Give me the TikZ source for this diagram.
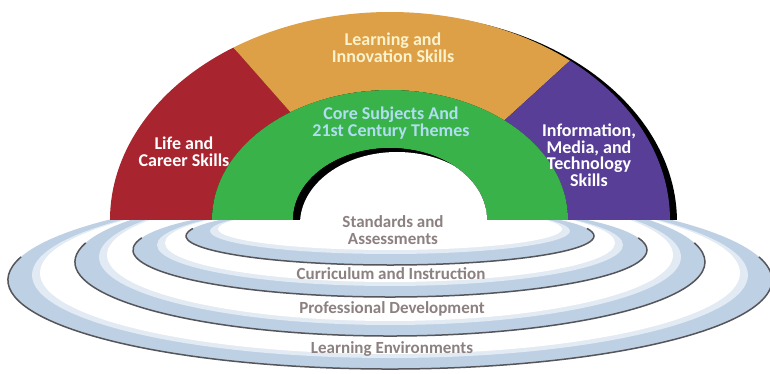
\documentclass[tikz,border=0pt]{standalone}
\usepackage{fontspec}
\setmainfont{Carlito}
\definecolor{lifered}{RGB}{168,36,46}
\definecolor{innoorange}{RGB}{221,160,70}
\definecolor{coregreen}{RGB}{58,178,74}
\definecolor{infopurple}{RGB}{88,62,150}
\definecolor{ringblue}{RGB}{190,208,228}
\definecolor{ringline}{RGB}{85,85,90}
\definecolor{supportgray}{RGB}{140,128,128}
\definecolor{corelabel}{RGB}{175,222,240}
\definecolor{innolabel}{RGB}{250,242,205}
% secteur de l'arc-en-ciel entre l'ellipse exterieure et l'ellipse du milieu
\newcommand{\secteur}[3]{\fill[#3] ({\rout*cos(#1)},{\hout*sin(#1)})
  arc[start angle=#1, end angle=#2, x radius=\rout, y radius=\hout]
  -- ({\rmid*cos(#2)},{\hmid*sin(#2)})
  arc[start angle=#2, end angle=#1, x radius=\rmid, y radius=\hmid] -- cycle;}

\begin{document}
\begin{tikzpicture}[x=1pt,y=1pt,
  lab/.style={font=\fontsize{18}{16.5}\selectfont\bfseries, align=center, inner sep=0pt},
  support/.style={font=\fontsize{17}{16.5}\selectfont\bfseries, align=center, inner sep=0pt, text=supportgray}]
  \def\rout{280}\def\hout{208}\def\rmid{178}\def\hmid{130}\def\rin{97}\def\hin{72}
  \useasboundingbox (-390,-154) rectangle (380,220);

  % anneaux de soutien, vus en perspective sous la base
  \begin{scope}
    \clip (-390,-154) rectangle (380,0);
    \foreach \cy/\rx/\ry in {-60/382/89, -42/315/74, -30/257/47, -16/204/29} {
      \fill[ringblue] (0,\cy) ellipse [x radius=\rx, y radius=\ry];
      \fill[ringblue!45] (0,\cy+5) ellipse [x radius=\rx-24, y radius=\ry-6];
      \fill[white] (0,\cy+7) ellipse [x radius=\rx-32, y radius=\ry-8];
      \draw[ringline, line width=1.5] ({-\rx*cos(15)},{\cy+\ry*sin(15)})
        arc[start angle=165, end angle=375, x radius=\rx, y radius=\ry];
    }
  \end{scope}

  % ombre portee de l'arc
  \begin{scope}
    \clip (-390,0) rectangle (380,220);
    \fill[black] (\rout+7,-2) arc[start angle=0, end angle=180, x radius=\rout, y radius=\hout] -- cycle;
  \end{scope}

  % les trois secteurs exterieurs
  \secteur{124}{180}{lifered}
  \secteur{50}{124}{innoorange}
  \secteur{0}{50}{infopurple}

  % anneau central
  \fill[coregreen] (\rmid,0) arc[start angle=0, end angle=180, x radius=\rmid, y radius=\hmid]
    -- (-\rin,0) arc[start angle=180, end angle=0, x radius=\rin, y radius=\hin] -- cycle;

  % trou central avec son ombre
  \begin{scope}
    \clip (\rin,0) arc[start angle=0, end angle=180, x radius=\rin, y radius=\hin] -- cycle;
    \fill[black] (-\rin,0) rectangle (\rin,\hin);
    \fill[white] (7,-4) ellipse [x radius=\rin, y radius=\hin];
  \end{scope}

  % textes
  \node[lab, text=innolabel] (inno) at (3,172) {Learning and\\Innovation Skills};
  \node[lab, text=white] (life) at (-206,68) {Life and\\Career Skills};
  \node[lab, text=corelabel] (core) at (1,97) {Core Subjects And\\21st Century Themes};
  \node[lab, text=white] (info) at (199,65) {Information,\\Media, and\\Technology\\Skills};
  \node[support] (std) at (3,-10) {Standards and\\Assessments};
  \node[support] (cur) at (1,-54) {Curriculum and Instruction};
  \node[support] (prof) at (2,-89) {Professional Development};
  \node[support] (env) at (2,-129) {Learning Environments};
\end{tikzpicture}
\end{document}
